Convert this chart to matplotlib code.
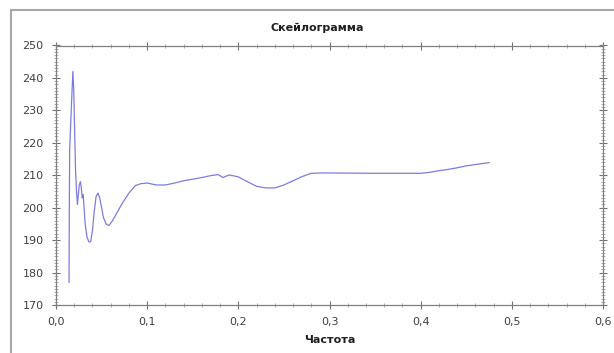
import matplotlib
matplotlib.use("Agg")
import matplotlib.pyplot as plt
from matplotlib.ticker import MultipleLocator, FuncFormatter
from matplotlib.lines import Line2D

freq = [0.0143, 0.0146, 0.0150, 0.0170, 0.0185, 0.0195, 0.0205, 0.0215, 0.0225,
        0.0235, 0.0245, 0.0255, 0.0268, 0.0278, 0.0288, 0.0298, 0.0308, 0.032,
        0.034, 0.036, 0.038, 0.040, 0.042, 0.044, 0.046, 0.048, 0.050, 0.052,
        0.055, 0.058, 0.062, 0.067, 0.073, 0.080, 0.087, 0.093, 0.100, 0.110,
        0.120, 0.130, 0.140, 0.150, 0.160, 0.170, 0.178, 0.183, 0.190, 0.200,
        0.210, 0.220, 0.230, 0.240, 0.250, 0.260, 0.270, 0.280, 0.290, 0.300,
        0.350, 0.400, 0.410, 0.420, 0.430, 0.440, 0.450, 0.460, 0.475]
scale = [177, 200, 218, 232, 242, 236, 223, 211, 205,
         201, 204, 207, 208, 206, 203, 204, 200, 195,
         191, 189.5, 189.5, 193, 199, 203.5, 204.5, 203, 200, 197,
         195, 194.5, 196, 198.5, 201.5, 204.5, 206.8, 207.4, 207.6, 207.0,
         207.0, 207.6, 208.3, 208.8, 209.3, 209.9, 210.2, 209.3, 210.1, 209.5,
         208.0, 206.6, 206.1, 206.1, 207.0, 208.3, 209.6, 210.6, 210.7, 210.7,
         210.6, 210.6, 210.9, 211.4, 211.8, 212.3, 212.9, 213.3, 213.9]

title = "Скейлограмма"
xlabel = "Частота"

fig = plt.figure(figsize=(6.14, 3.53), dpi=100)
ax = fig.add_axes([56/614, 1-305/353, (603-56)/614, (305-45.5)/353])
ax.plot(freq, scale, color="#7c7ce0", lw=0.9)
ax.set_xlim(0, 0.6)
ax.set_ylim(170, 250)

ax.xaxis.set_major_locator(MultipleLocator(0.1))
ax.xaxis.set_minor_locator(MultipleLocator(0.02))
ax.yaxis.set_major_locator(MultipleLocator(10))
ax.yaxis.set_minor_locator(MultipleLocator(1))
ax.xaxis.set_major_formatter(FuncFormatter(lambda v, p: f"{v:.1f}".replace(".", ",")))
ax.yaxis.set_major_formatter(FuncFormatter(lambda v, p: f"{v:.0f}"))

for s in ax.spines.values():
    s.set_color("#808080")
    s.set_linewidth(0.9)
ax.tick_params(which="major", direction="inout", length=6, width=0.8, color="#707070",
               top=True, right=True, labelsize=8, labelcolor="#404040")
ax.tick_params(which="minor", direction="inout", length=3, width=0.6, color="#a0a0a0",
               top=True, right=True)
ax.tick_params(axis="x", which="major", pad=6)
ax.tick_params(axis="y", which="major", pad=6)

fig.text(317/614, 1-28/353, title, ha="center", va="center", fontsize=8, fontweight="bold", color="#202020")
fig.text(330/614, 1-340/353, xlabel, ha="center", va="center", fontsize=8, fontweight="bold", color="#202020")

fig.add_artist(Line2D([11/614, 11/614], [0, 1-10/353], color="#a8a8a8", lw=1.5))
fig.add_artist(Line2D([11/614, 1], [1-10/353, 1-10/353], color="#a8a8a8", lw=1.5))

fig.savefig("out.png", dpi=100)
